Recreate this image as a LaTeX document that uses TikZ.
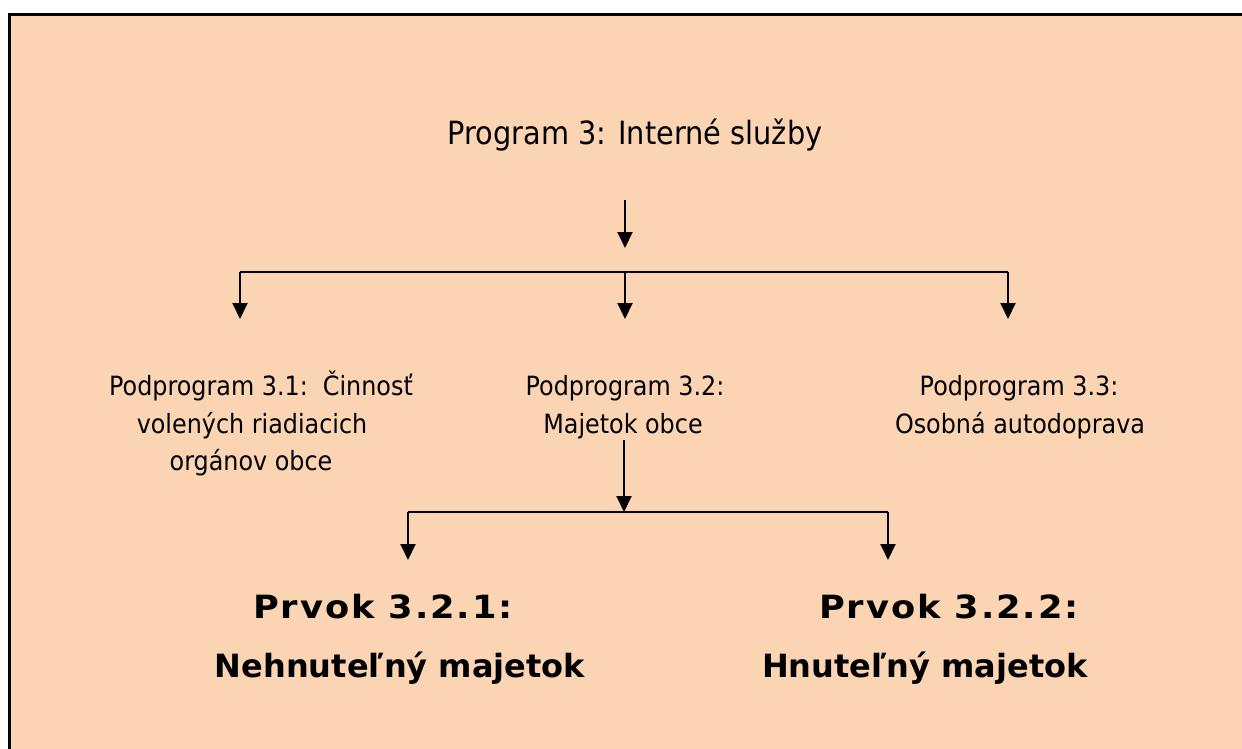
\documentclass[tikz,border=0pt]{standalone}
\usepackage{fontspec}
\setmainfont{DejaVu Sans}[FakeStretch=0.9]
\newfontfamily\prvokfont{DejaVu Sans}
\newfontfamily\prvokheadfont{DejaVu Sans}[FakeStretch=1.1, LetterSpace=6]
\usetikzlibrary{arrows.meta}
\definecolor{peach}{HTML}{FBD4B4}

\begin{document}
\begin{tikzpicture}[x=0.5pt,y=-0.5pt,
  titletext/.style={font=\fontsize{16pt}{20pt}\selectfont, inner sep=0pt, anchor=base},
  subtext/.style={font=\fontsize{13.25pt}{18pt}\selectfont, inner sep=0pt, anchor=base},
  elemtext/.style={font=\prvokfont\bfseries\fontsize{16pt}{20pt}\selectfont, inner sep=0pt, anchor=base},
  elemhead/.style={elemtext, font=\prvokheadfont\bfseries\fontsize{16pt}{20pt}\selectfont},
  link/.style={line width=1pt},
  arr/.style={link, -{Triangle[width=7.5pt,length=8pt]}}]

\useasboundingbox (0,0) rectangle (1242,749);
\fill[white] (0,0) rectangle (1242,749);
% frame: peach panel with a black edge on its left and top sides
\fill[peach] (8,13) rectangle (1242,749);
\draw[line width=1.5pt] (9.5,749) -- (9.5,14.5) -- (1242,14.5);

% program title
\node[titletext] (prog) at (635,145) {Program 3: Interné služby};

% subprograms
\node[subtext] (sp1a) at (261,395) {Podprogram 3.1:\ \ Činnosť};
\node[subtext] (sp1b) at (252,433) {volených riadiacich};
\node[subtext] (sp1c) at (251,470) {orgánov obce};

\node[subtext] (sp2a) at (625,395) {Podprogram 3.2:};
\node[subtext] (sp2b) at (623,433) {Majetok obce};

\node[subtext] (sp3a) at (1019,395) {Podprogram 3.3:};
\node[subtext] (sp3b) at (1020,433) {Osobná autodoprava};

% elements of subprogram 3.2
\node[elemhead] (el1a) at (383,618) {Prvok 3.2.1:};
\node[elemtext] (el1b) at (400,677) {Nehnuteľný majetok};
\node[elemhead] (el2a) at (949,618) {Prvok 3.2.2:};
\node[elemtext] (el2b) at (925,677) {Hnuteľný majetok};

% connector points
\coordinate (progout) at (625,200);
\coordinate (progin) at (625,248);
\coordinate (barL) at (240,272);
\coordinate (barM) at (625,272);
\coordinate (barR) at (1008,272);
\coordinate (sp1in) at (240,319);
\coordinate (sp2in) at (625,319);
\coordinate (sp3in) at (1008,319);
\coordinate (sp2out) at (624,440);
\coordinate (bar2M) at (624,512);
\coordinate (bar2L) at (408,512);
\coordinate (bar2R) at (888,512);
\coordinate (el1in) at (408,560);
\coordinate (el2in) at (888,560);

% connectors
\draw[arr] (progout) -- (progin);
\draw[link] (barL) -- (barR);
\draw[arr] (barL) -- (sp1in);
\draw[arr] (barM) -- (sp2in);
\draw[arr] (barR) -- (sp3in);
\draw[arr] (sp2out) -- (bar2M);
\draw[link] (bar2L) -- (bar2R);
\draw[arr] (bar2L) -- (el1in);
\draw[arr] (bar2R) -- (el2in);
\end{tikzpicture}
\end{document}
